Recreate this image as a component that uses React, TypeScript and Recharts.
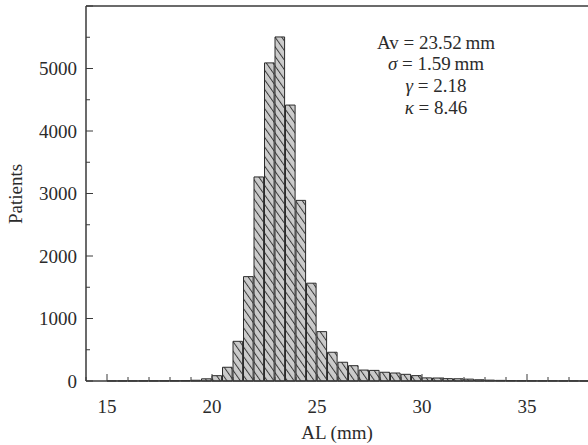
import { ComposedChart, Bar, XAxis, YAxis, ReferenceLine, Customized } from "recharts";

// AL histogram, 0.5 mm bins (left edge of each bin)
const binStarts = [
  14, 14.5, 15, 15.5, 16, 16.5, 17, 17.5, 18, 18.5, 19, 19.5,
  20, 20.5, 21, 21.5, 22, 22.5, 23, 23.5, 24, 24.5, 25, 25.5,
  26, 26.5, 27, 27.5, 28, 28.5, 29, 29.5, 30, 30.5, 31, 31.5,
  32, 32.5, 33, 33.5, 34, 34.5, 35, 35.5, 36, 36.5, 37, 37.5,
];
const patients = [
  0, 0, 2, 2, 2, 3, 3, 4, 5, 7, 12, 35,
  85, 220, 635, 1670, 3265, 5090, 5505, 4415, 2890, 1565, 790, 460,
  300, 245, 175, 170, 140, 128, 107, 86, 50, 48, 38, 36,
  30, 20, 14, 10, 7, 5, 4, 3, 3, 2, 2, 1,
];

const xTicks = [14, 15, 16, 17, 18, 19, 20, 21, 22, 23, 24, 25, 26, 27, 28, 29, 30, 31, 32, 33, 34, 35, 36, 37, 38];
const xLabels = [15, 20, 25, 30, 35];
const yTicks = [0, 500, 1000, 1500, 2000, 2500, 3000, 3500, 4000, 4500, 5000, 5500, 6000];
const yLabels = [0, 1000, 2000, 3000, 4000, 5000];

const statSymbols = ["Av", "σ", "γ", "κ"];
const statValues = ["23.52\u2009mm", "1.59\u2009mm", "2.18", "8.46"];

const data = binStarts.map((b, i) => ({ al: b + 0.25, patients: patients[i] }));

const FONT = '"Liberation Serif", "Times New Roman", serif';
const INK = "#2b2b2b";
const AXIS = "#3a3a3a";

function XTick({ x, y, payload }: any) {
  const major = xLabels.includes(payload.value);
  return (
    <g>
      <line x1={x} x2={x} y1={y} y2={y - (major ? 7 : 4)} stroke={AXIS} strokeWidth={1} />
      {major && (
        <text x={x} y={y + 25} dy="0.35em" textAnchor="middle" fontFamily={FONT} fontSize={19} fill={INK}>
          {payload.value}
        </text>
      )}
    </g>
  );
}

function YTick({ x, y, payload }: any) {
  const major = payload.value % 1000 === 0;
  return (
    <g>
      <line x1={x} x2={x + (major ? 7 : 4)} y1={y} y2={y} stroke={AXIS} strokeWidth={1} />
      {yLabels.includes(payload.value) && (
        <text x={x - 9} y={y} dy="0.35em" textAnchor="end" fontFamily={FONT} fontSize={19} fill={INK}>
          {payload.value}
        </text>
      )}
    </g>
  );
}

function Texts() {
  return (
    <g fontFamily={FONT} fill={INK}>
      <text x={15} y={194} dy="0.35em" textAnchor="middle" fontSize={19} transform="rotate(-90 15 194)">
        Patients
      </text>
      <text x={337} y={432} dy="0.35em" textAnchor="middle" fontSize={19}>
        AL (mm)
      </text>
      {statSymbols.map((s, i) => (
        <text key={s} x={436} y={42 + i * 21.7} dy="0.35em" textAnchor="middle" fontSize={19}>
          <tspan fontStyle={i === 0 ? "normal" : "italic"}>{s}</tspan>
          <tspan> = {statValues[i]}</tspan>
        </text>
      ))}
    </g>
  );
}

export default function App() {
  return (
    <div style={{ position: "absolute", left: 0, top: 0, width: 588, height: 445, overflow: "hidden", background: "#fff" }}>
      <ComposedChart width={610} height={445} data={data} margin={{ top: 6, right: 9.5, bottom: 0, left: 0 }}>
        <defs>
          <pattern id="hatch" patternUnits="userSpaceOnUse" width={5.5} height={10} patternTransform="rotate(-35)">
            <rect x={0} y={0} width={5.5} height={10} fill="#cbcbcb" />
            <line x1={0.5} y1={0} x2={0.5} y2={10} stroke="#3a3a3a" strokeWidth={1} />
          </pattern>
        </defs>
        <XAxis
          dataKey="al"
          type="number"
          domain={[14, 38.5]}
          ticks={xTicks}
          interval={0}
          allowDataOverflow
          height={64}
          tickSize={0}
          tickMargin={0}
          tickLine={false}
          tick={<XTick />}
          axisLine={{ stroke: AXIS, strokeWidth: 1.5 }}
        />
        <YAxis
          type="number"
          domain={[0, 6000]}
          ticks={yTicks}
          interval={0}
          width={86}
          tickSize={0}
          tickMargin={0}
          tickLine={false}
          tick={<YTick />}
          axisLine={{ stroke: AXIS, strokeWidth: 1.5 }}
        />
        <ReferenceLine y={6000} stroke={AXIS} strokeWidth={1.5} />
        <Bar dataKey="patients" barSize={9.6} fill="url(#hatch)" stroke={INK} strokeWidth={1} isAnimationActive={false} />
        <Customized component={Texts} />
      </ComposedChart>
    </div>
  );
}
